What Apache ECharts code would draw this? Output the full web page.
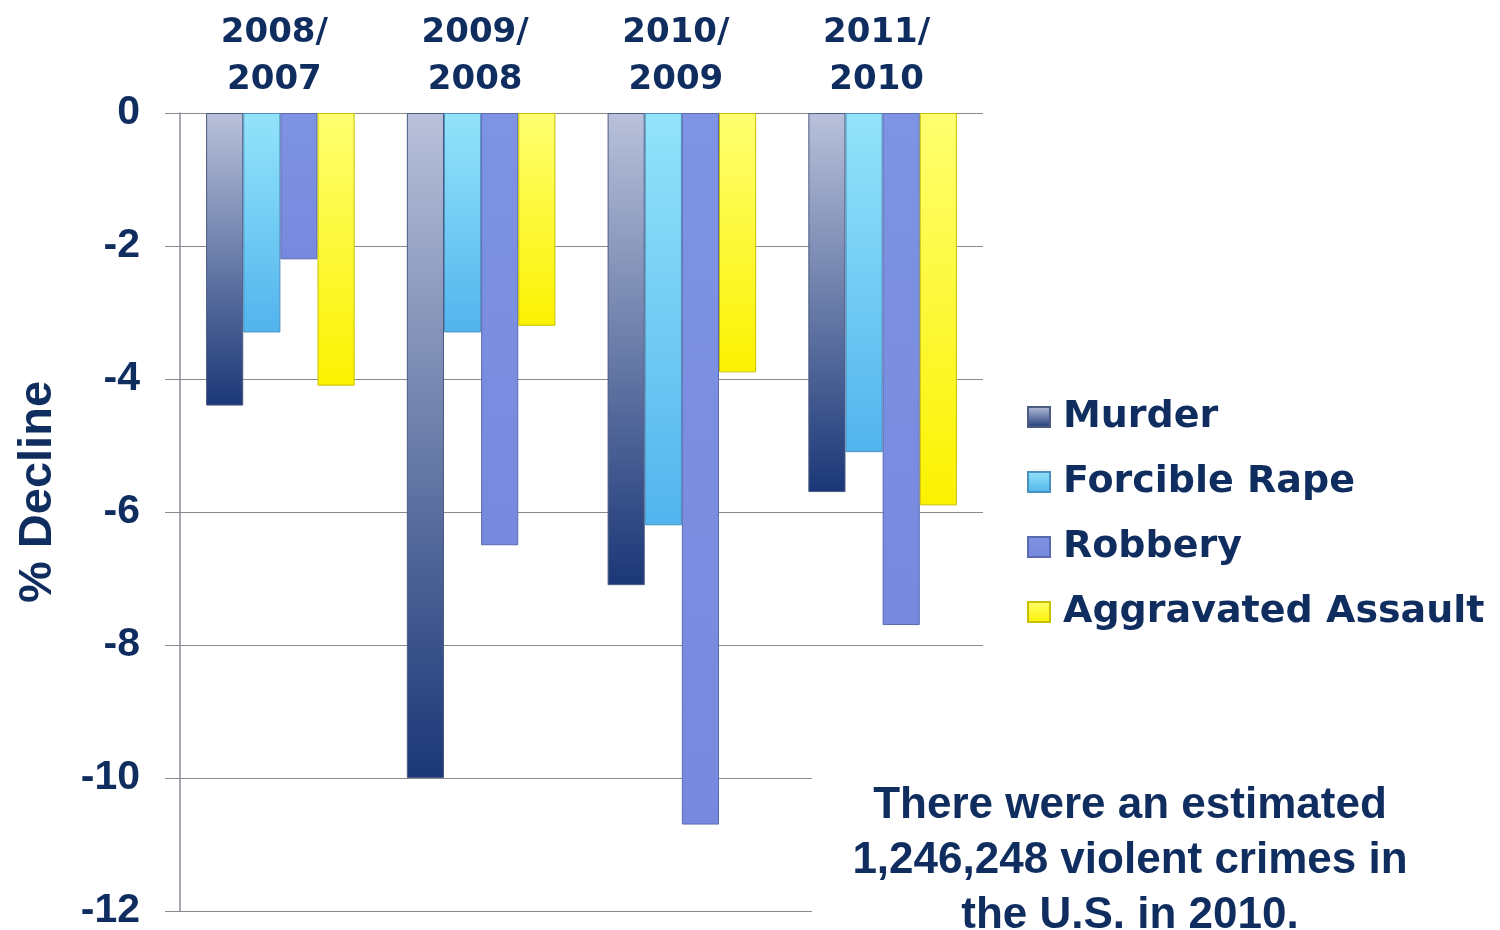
<!DOCTYPE html>
<html>
<head>
<meta charset="utf-8">
<script src="https://cdn.jsdelivr.net/npm/echarts@6/dist/echarts.min.js"></script>
<style>html,body{margin:0;padding:0;background:#fff}#c{width:1500px;height:930px}</style>
</head>
<body>
<div id="c"></div>
<script>
const categories = ['2008/\n2007', '2009/\n2008', '2010/\n2009', '2011/\n2010'];
const seriesNames = ['Murder', 'Forcible Rape', 'Robbery', 'Aggravated Assault'];
const murder = [-4.4, -10.0, -7.1, -5.7];
const forcibleRape = [-3.3, -3.3, -6.2, -5.1];
const robbery = [-2.2, -6.5, -10.7, -7.7];
const aggravatedAssault = [-4.1, -3.2, -3.9, -5.9];
const yTicks = [0, -2, -4, -6, -8, -10, -12];
const note = 'There were an estimated\n1,246,248 violent crimes in\nthe U.S. in 2010.';

const navy = '#0f2d5f';
const font = '"Liberation Sans", Arial, sans-serif';
const wide = '"DejaVu Sans", sans-serif';
function grad(top, bottom) {
  return {type: 'linear', x: 0, y: 0, x2: 0, y2: 1,
    colorStops: [{offset: 0, color: top}, {offset: 1, color: bottom}]};
}
const styles = [
  {color: grad('#b9c1da', '#1b3777'), borderColor: '#4a5a80'},
  {color: grad('#93e4fa', '#52b4ee'), borderColor: '#4a90c0'},
  {color: grad('#7e93e3', '#7789de'), borderColor: '#5a6ab0'},
  {color: grad('#ffff70', '#fbf200'), borderColor: '#c8c000'}
];
const dataSets = [murder, forcibleRape, robbery, aggravatedAssault];

const chart = echarts.init(document.getElementById('c'));
chart.setOption({
  animation: false,
  backgroundColor: '#ffffff',
  grid: {left: 180, right: 517, top: 113, bottom: 19, containLabel: false, outerBoundsMode: 'none'},
  legend: {
    orient: 'vertical', left: 1022, top: 392,
    icon: 'rect', itemWidth: 22, itemHeight: 20, itemGap: 25,
    textStyle: {fontFamily: wide, fontWeight: 'bold', fontSize: 38, color: navy, lineHeight: 40, padding: [0, 0, 0, 8]},
    data: seriesNames
  },
  xAxis: {
    type: 'category', position: 'top', data: categories,
    axisLine: {show: false}, axisTick: {show: false},
    axisLabel: {fontFamily: wide, fontWeight: 'bold', fontSize: 34, color: navy, lineHeight: 47, margin: 9,
      padding: [0, 12, 0, 0]}
  },
  yAxis: {
    type: 'value', min: -12, max: 0, interval: 2,
    name: '% Decline', nameLocation: 'middle', nameRotate: 90, nameGap: 118,
    nameTextStyle: {fontFamily: font, fontWeight: 'bold', fontSize: 47, color: navy, padding: [0, 0, 0, 40]},
    axisLine: {show: true, lineStyle: {color: '#8a8a96', width: 1.5}},
    axisTick: {show: true, length: 15, lineStyle: {color: '#8a8a96'}},
    splitLine: {show: true, lineStyle: {color: '#8a8a8a', width: 1.2}},
    axisLabel: {fontFamily: font, fontWeight: 'bold', fontSize: 41, color: navy, margin: 40,
      customValues: yTicks}
  },
  series: dataSets.map((d, i) => ({
    name: seriesNames[i], type: 'bar', data: d,
    barGap: '0%', barCategoryGap: '26%',
    itemStyle: {color: styles[i].color, borderColor: styles[i].borderColor, borderWidth: 1}
  })),
  graphic: [
    {type: 'rect', left: 812, top: 765, shape: {width: 200, height: 165}, style: {fill: '#ffffff'}, z: 50},
    {type: 'text', x: 1130, y: 778, z: 60,
      style: {text: note, align: 'center', verticalAlign: 'top', fill: navy,
        font: 'bold 44px ' + font, lineHeight: 55}}
  ]
});
</script>
</body>
</html>
